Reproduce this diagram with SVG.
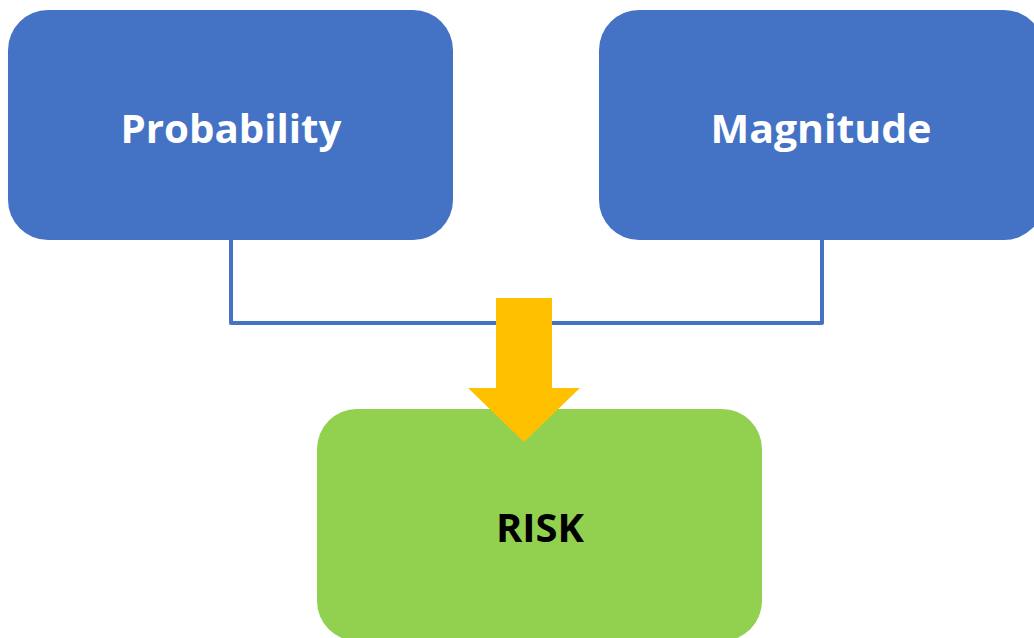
<svg xmlns="http://www.w3.org/2000/svg" width="1034" height="638" viewBox="0 0 1034 638">
<style>
.blue{fill:#4472C4}
.green{fill:#92D050}
.lbl{font-family:"Open Sans","Liberation Sans",sans-serif;font-weight:bold;font-size:40px;text-anchor:middle}
.conn{fill:none;stroke:#4472C4;stroke-width:4;stroke-linejoin:round}
</style>
<rect width="1034" height="638" fill="#ffffff"/>
<g id="probability">
<rect class="blue" x="8" y="10" width="445" height="230" rx="40"/>
<text class="lbl" x="231" y="143" fill="#ffffff" textLength="221" lengthAdjust="spacingAndGlyphs">Probability</text>
</g>
<g id="magnitude">
<rect class="blue" x="599" y="10" width="445" height="230" rx="40"/>
<text class="lbl" x="821" y="143" fill="#ffffff" textLength="221" lengthAdjust="spacingAndGlyphs">Magnitude</text>
</g>
<g id="connectors">
<path class="conn" d="M231 240 V323 H822 V240"/>
</g>
<g id="risk">
<rect class="green" x="317" y="409" width="445" height="232" rx="40"/>
<text class="lbl" x="540" y="542" fill="#000000" textLength="88" lengthAdjust="spacingAndGlyphs">RISK</text>
</g>
<g id="arrow">
<polygon fill="#FFC000" points="496,298 552,298 552,388 580,388 524,442 468,388 496,388"/>
</g>
</svg>
